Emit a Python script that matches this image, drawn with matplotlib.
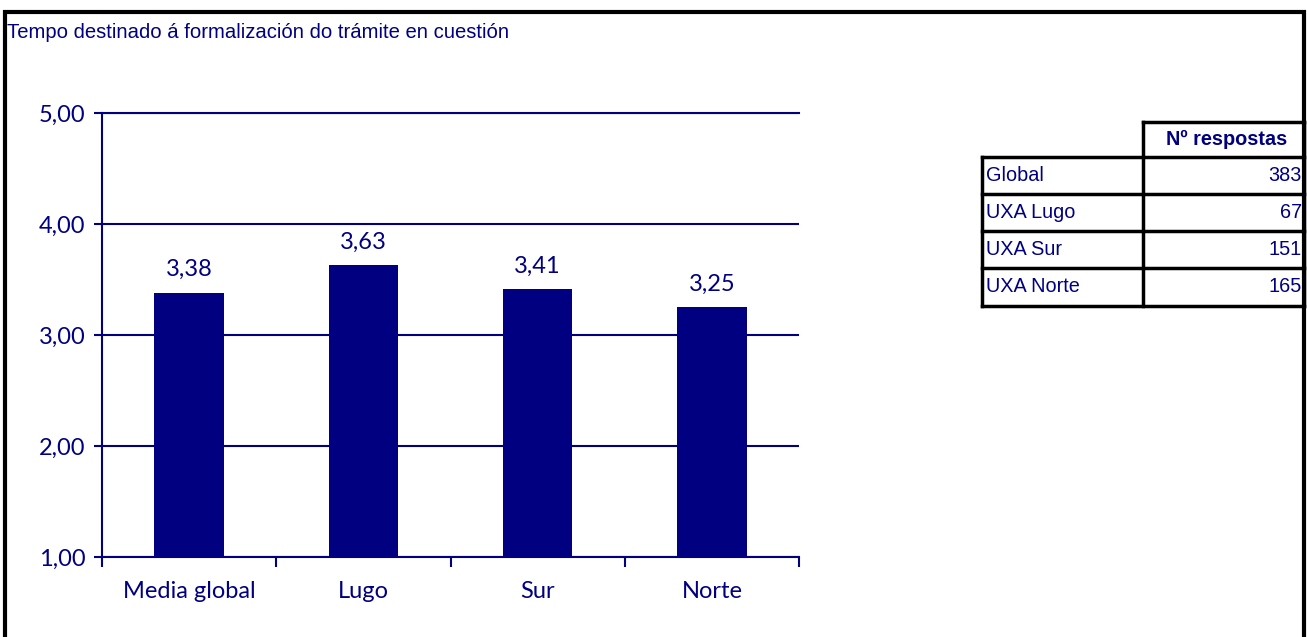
import matplotlib
matplotlib.use("Agg")
import matplotlib.pyplot as plt
from matplotlib.lines import Line2D
from matplotlib.patches import Rectangle

# Datos
categorias = ["Media global", "Lugo", "Sur", "Norte"]
medias = [3.38, 3.63, 3.41, 3.25]
ticks_y = [1, 2, 3, 4, 5]

filas_tabla = ["Global", "UXA Lugo", "UXA Sur", "UXA Norte"]
respostas = [383, 67, 151, 165]
cabeceira = "Nº respostas"

titulo = "Tempo destinado á formalización do trámite en cuestión"

navy = "#000080"
W, H = 1307, 637

fig = plt.figure(figsize=(W / 100, H / 100), dpi=100)


def fx(px):
    return px / W


def fy(py):
    return 1 - py / H


# Marco da figura
fig.add_artist(Rectangle((fx(4.5), fy(700)), fx(1299), (700 - 11.5) / H,
                         transform=fig.transFigure, fill=False, edgecolor="black",
                         linewidth=3, clip_on=False))

fig.text(fx(7), fy(32), titulo, fontsize=14.6, color=navy, family="Liberation Sans",
         ha="left", va="center")

# Gráfico de barras
ax = fig.add_axes([fx(102), fy(557), fx(799 - 102), (557 - 113) / H])
x = range(len(categorias))
ax.bar(x, medias, width=0.4, color=navy, zorder=3)
ax.set_xlim(-0.5, len(categorias) - 0.5)
ax.set_ylim(1, 5)
ax.set_yticks(ticks_y)
ax.set_yticklabels([f"{v:.2f}".replace(".", ",") for v in ticks_y])
ax.set_xticks(list(x))
ax.set_xticklabels(categorias)
ax.set_xticks([i - 0.5 for i in range(len(categorias) + 1)], minor=True)
ax.tick_params(axis="x", which="major", length=0, pad=17, labelsize=17, labelcolor=navy)
ax.tick_params(axis="x", which="minor", length=7, width=1.5, color=navy, direction="out")
ax.tick_params(axis="y", length=6, width=1.5, color=navy, pad=6, labelsize=17, labelcolor=navy)
for lab in ax.get_xticklabels() + ax.get_yticklabels():
    lab.set_family("Lato")

ax.grid(axis="y", color=navy, linewidth=1.5, zorder=1)
ax.set_axisbelow(True)
for s in ["top", "right"]:
    ax.spines[s].set_visible(False)
for s in ["left", "bottom"]:
    ax.spines[s].set_color(navy)
    ax.spines[s].set_linewidth(1.5)
ax.spines["bottom"].set_zorder(4)
ax.axhline(5, color=navy, linewidth=1.5, clip_on=False)

for xi, v in zip(x, medias):
    ax.annotate(f"{v:.2f}".replace(".", ","), (xi, v), xytext=(0, 9),
                textcoords="offset points", ha="center", va="bottom",
                fontsize=17, color=navy, family="Lato")

# Táboa de respostas
cols = [982, 1143, 1304]
rows = [122, 157, 194, 231, 268, 306]
lw = 2.5


def linea(x0, y0, x1, y1):
    fig.add_artist(Line2D([fx(x0), fx(x1)], [fy(y0), fy(y1)], color="black",
                          linewidth=lw, transform=fig.transFigure))


linea(cols[1], rows[0], cols[2], rows[0])
for r in rows[1:]:
    linea(cols[0], r, cols[2], r)
linea(cols[0], rows[1], cols[0], rows[-1])
linea(cols[1], rows[0], cols[1], rows[-1])
linea(cols[2], rows[0], cols[2], rows[-1])

fig.text(fx((cols[1] + cols[2]) / 2 + 3), fy((rows[0] + rows[1]) / 2), cabeceira,
         fontsize=14.3, fontweight="bold", color=navy, family="Liberation Sans",
         ha="center", va="center")
for i, (nome, n) in enumerate(zip(filas_tabla, respostas)):
    yc = fy((rows[i + 1] + rows[i + 2]) / 2)
    fig.text(fx(cols[0] + 4), yc, nome, fontsize=14.3, color=navy,
             family="Liberation Sans", ha="left", va="center")
    fig.text(fx(cols[2] - 2), yc, str(n), fontsize=14.3, color=navy,
             family="Liberation Sans", ha="right", va="center")

fig.savefig("out.png", dpi=100)
